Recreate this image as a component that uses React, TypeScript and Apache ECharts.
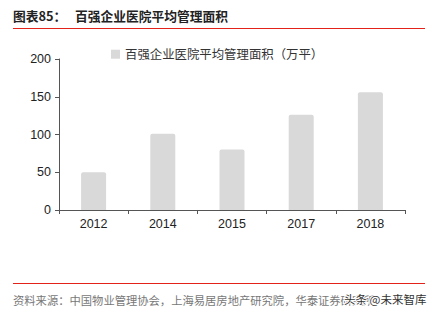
import React, { useEffect, useRef } from "react";
import * as echarts from "echarts";

const categories = ["2012", "2014", "2015", "2017", "2018"];
const areaValues = [50, 101, 80, 126, 156];
const seriesName = "百强企业医院平均管理面积（万平）";
const titleText = "图表85：";
const titleMain = "百强企业医院平均管理面积";
const sourceText = "资料来源：中国物业管理协会，上海易居房地产研究院，华泰证券研究所";
const watermark = "头条 @未来智库";

export default function App() {
  const ref = useRef<HTMLDivElement>(null);
  useEffect(() => {
    if (!ref.current) return;
    const chart = echarts.init(ref.current, null, { renderer: "svg" });
    const cjk = '"Noto Sans CJK SC", sans-serif';
    chart.setOption({
      animation: false,
      backgroundColor: "#ffffff",
      grid: { left: 59, right: 29, top: 59, bottom: 105, containLabel: false },
      legend: {
        data: [seriesName],
        left: 111,
        top: 48,
        padding: 0,
        itemWidth: 9,
        itemHeight: 9,
        itemGap: 3,
        icon: "rect",
        textStyle: { fontFamily: cjk, fontSize: 12.4, color: "#333" },
      },
      xAxis: {
        type: "category",
        data: categories,
        axisLine: { lineStyle: { color: "#555", width: 1 } },
        axisTick: { show: true, length: 4, lineStyle: { color: "#555" } },
        axisLabel: {
          fontFamily: '"Liberation Sans", Arial, sans-serif',
          fontSize: 12.5,
          color: "#222",
          margin: 7,
        },
      },
      yAxis: {
        type: "value",
        min: 0,
        max: 200,
        interval: 50,
        splitLine: { show: false },
        axisLine: { show: true, lineStyle: { color: "#555", width: 1 } },
        axisTick: { show: true, length: 4, inside: false, lineStyle: { color: "#555" } },
        axisLabel: {
          fontFamily: '"Liberation Sans", Arial, sans-serif',
          fontSize: 12.5,
          color: "#222",
          margin: 8,
        },
      },
      series: [
        {
          name: seriesName,
          type: "bar",
          data: areaValues,
          barWidth: 25,
          itemStyle: { color: "#d9d9d9", borderRadius: [2, 2, 0, 0] },
        },
      ],
      graphic: [
        {
          type: "text",
          left: 13,
          top: 9,
          style: { text: titleText, font: `bold 12.75px ${cjk}`, fill: "#222" },
        },
        {
          type: "text",
          left: 75,
          top: 9,
          style: { text: titleMain, font: `bold 12.75px ${cjk}`, fill: "#222" },
        },
        {
          type: "line",
          shape: { x1: 13, y1: 28.5, x2: 425, y2: 28.5 },
          style: { stroke: "#e3231a", lineWidth: 1 },
        },
        {
          type: "line",
          shape: { x1: 13, y1: 283.5, x2: 425, y2: 283.5 },
          style: { stroke: "#e3231a", lineWidth: 1 },
        },
        {
          type: "text",
          left: 13,
          top: 294,
          style: { text: sourceText, font: `11.3px ${cjk}`, fill: "#777" },
        },
        {
          type: "text",
          left: 343,
          top: 292,
          style: {
            text: watermark,
            font: `11.5px ${cjk}`,
            fill: "#333",
            stroke: "#fff",
            lineWidth: 2,
          },
        },
      ],
    });
    return () => chart.dispose();
  }, []);
  return <div ref={ref} style={{ width: 434, height: 315, position: "absolute", left: 0, top: 0 }} />;
}
